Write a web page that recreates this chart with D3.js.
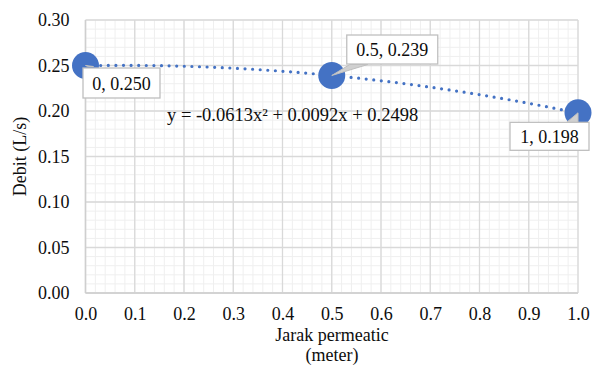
<!DOCTYPE html>
<html><head><meta charset="utf-8">
<script src="https://cdn.jsdelivr.net/npm/d3@7"></script>
<style>
html,body{margin:0;padding:0;background:#fff;}
svg{display:block;}
svg text{font-family:"Liberation Serif","Times New Roman","DejaVu Serif",serif !important;fill:#0d0d0d;}
</style></head>
<body>
<svg id="chart" width="592" height="365" font-family="Liberation Serif"></svg>
<script>
const xValues = [0, 0.5, 1];
const yValues = [0.250, 0.239, 0.198];
const pointLabels = ["0, 0.250", "0.5, 0.239", "1, 0.198"];
const xTicks = [0,0.1,0.2,0.3,0.4,0.5,0.6,0.7,0.8,0.9,1.0];
const yTicks = [0,0.05,0.10,0.15,0.20,0.25,0.30];
const trendCoefs = [-0.0613, 0.0092, 0.2498]; // a, b, c
const trendLabel = "y = -0.0613x² + 0.0092x + 0.2498";
const xTitle = ["Jarak permeatic", "(meter)"];
const yTitle = "Debit (L/s)";

const svg = d3.select("#chart");
const m = {left: 85.5, right: 578, top: 20, bottom: 293};
const x = d3.scaleLinear().domain([0,1]).range([m.left, m.right]);
const y = d3.scaleLinear().domain([0,0.3]).range([m.bottom, m.top]);
const blue = "#4472C4";
const FONT = "'Liberation Serif','Times New Roman',serif";

// minor grid
const minorX = d3.range(0, 1.0001, 0.02);
const minorY = d3.range(0, 0.30001, 0.01);
const g = svg.append("g");
g.selectAll(".mx").data(minorX).join("line")
  .attr("x1", d=>x(d)).attr("x2", d=>x(d)).attr("y1", m.top).attr("y2", m.bottom)
  .attr("stroke", "#efefef").attr("stroke-width", 1);
g.selectAll(".my").data(minorY).join("line")
  .attr("y1", d=>y(d)).attr("y2", d=>y(d)).attr("x1", m.left).attr("x2", m.right)
  .attr("stroke", "#efefef").attr("stroke-width", 1);
// major grid
g.selectAll(".Mx").data(xTicks).join("line")
  .attr("x1", d=>x(d)).attr("x2", d=>x(d)).attr("y1", m.top).attr("y2", m.bottom)
  .attr("stroke", "#d9d9d9").attr("stroke-width", 1.3);
g.selectAll(".My").data(yTicks).join("line")
  .attr("y1", d=>y(d)).attr("y2", d=>y(d)).attr("x1", m.left).attr("x2", m.right)
  .attr("stroke", "#d9d9d9").attr("stroke-width", 1.3);
// axes lines
svg.append("line").attr("x1", m.left).attr("x2", m.left).attr("y1", m.top).attr("y2", m.bottom)
  .attr("stroke", "#cfcfcf").attr("stroke-width", 1.5);
svg.append("line").attr("x1", m.left).attr("x2", m.right).attr("y1", m.bottom).attr("y2", m.bottom)
  .attr("stroke", "#cfcfcf").attr("stroke-width", 1.5);

// tick labels
const yAxis = d3.axisLeft(y).tickValues(yTicks).tickFormat(d3.format(".2f")).tickSize(0).tickPadding(16);
const ya = svg.append("g").attr("transform", `translate(${m.left},0)`).call(yAxis)
  .attr("font-family", FONT).attr("font-size", 18);
ya.select(".domain").remove();
ya.selectAll("text").attr("fill","#0d0d0d");

const xAxis = d3.axisBottom(x).tickValues(xTicks).tickFormat(d3.format(".1f")).tickSize(0).tickPadding(14);
const xa = svg.append("g").attr("transform", `translate(0,${m.bottom})`).call(xAxis)
  .attr("font-family", FONT).attr("font-size", 18);
xa.select(".domain").remove();
xa.selectAll("text").attr("fill","#0d0d0d");

// titles
svg.append("text").attr("x", 332).attr("y", 341).attr("text-anchor","middle").attr("font-size",18).text(xTitle[0]);
svg.append("text").attr("x", 332).attr("y", 361).attr("text-anchor","middle").attr("font-size",18).text(xTitle[1]);
svg.append("text").attr("transform", `translate(26,156.5) rotate(-90)`).attr("text-anchor","middle").attr("font-size",18).text(yTitle);

// trendline
const trendX = d3.range(0, 1.0001, 0.01);
const trendFn = t => trendCoefs[0]*t*t + trendCoefs[1]*t + trendCoefs[2];
svg.append("path").datum(trendX)
  .attr("d", d3.line().x(d=>x(d)).y(d=>y(trendFn(d))))
  .attr("fill","none").attr("stroke", blue).attr("stroke-width", 3.2)
  .attr("stroke-linecap","round").attr("stroke-dasharray","0 7.6");

// points
const pts = xValues.map((v,i)=>({x:v, y:yValues[i], label:pointLabels[i]}));
svg.selectAll(".pt").data(pts).join("circle")
  .attr("cx", d=>x(d.x)).attr("cy", d=>y(d.y)).attr("r", 13.5).attr("fill", blue);

// equation
svg.append("text").attr("x", 167).attr("y", 121).attr("font-size",18.5).text(trendLabel);

// data labels (boxes with callouts), offsets relative to point
const boxes = [
  {dx: -2.5, dy: 2.5, w: 77, h: 30, wedge: [[0,0],[3,1],[8,1]]},
  {dx: 15, dy: -40.5, w: 91, h: 29, wedge: [[0,0],[18,-11],[36,-11]]},
  {dx: -68, dy: 9.5, w: 79, h: 28, wedge: [[0,0],[-12,10],[0,10]]}
];
pts.forEach((p,i)=>{
  const b = boxes[i];
  const px = x(p.x), py = y(p.y);
  const bx = px + b.dx, by = py + b.dy;
  svg.append("polygon")
    .attr("points", b.wedge.map(w=>[px+w[0], py+w[1]].join(",")).join(" "))
    .attr("fill","#d0d0d0").attr("stroke","#bfbfbf").attr("stroke-width",1);
  svg.append("rect").attr("x", bx).attr("y", by).attr("width", b.w).attr("height", b.h)
    .attr("fill","#fff").attr("stroke","#bfbfbf").attr("stroke-width",1.3);
  svg.append("text").attr("x", bx + b.w/2).attr("y", by + b.h/2 + 6.5)
    .attr("text-anchor","middle").attr("font-size",18).text(p.label);
});
</script>
</body></html>
